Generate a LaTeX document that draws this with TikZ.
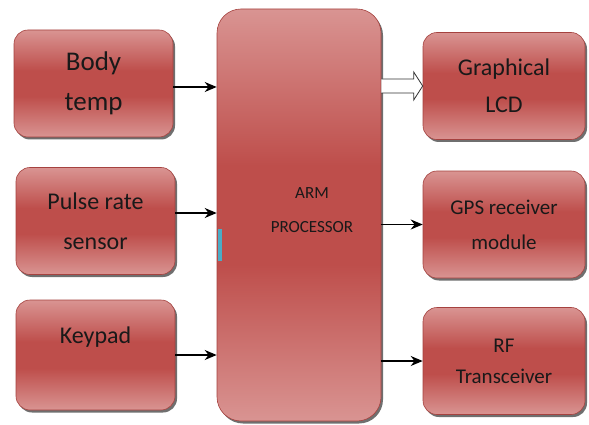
\documentclass[tikz,border=0pt]{standalone}
\usepackage{fontspec}
\setmainfont{Carlito}
\usetikzlibrary{arrows.meta,calc,shadows}
\definecolor{boxlight}{RGB}{217,148,146}
\definecolor{boxdark}{RGB}{190,78,75}
\definecolor{boxline}{RGB}{165,66,63}
\definecolor{marker}{RGB}{75,172,198}
\pgfdeclareverticalshading{redbar}{100bp}{color(0bp)=(boxlight); color(25bp)=(boxlight);
    color(44bp)=(boxdark); color(56bp)=(boxdark); color(75bp)=(boxlight); color(100bp)=(boxlight)}
\tikzset{
    >=Stealth,
    boxbase/.style={draw=boxline,line width=0.6pt,rounded corners=14pt,
        shade,shading=redbar,
        align=center,inner sep=0pt,text=black!90,
        drop shadow={shadow xshift=2pt,shadow yshift=-2.5pt,fill=black!80,opacity=0.7}},
    block/.style={boxbase,minimum width=159pt,minimum height=107pt},
    txt/.style 2 args={font=\fontsize{#1}{#2}\selectfont},
    link/.append style={line width=1.4pt,-{Stealth[length=12pt,width=10pt]}},
    hollow/.style={draw=black!80,fill=white,line width=0.8pt},
}
\begin{document}
\begin{tikzpicture}[x=1pt,y=-1pt]
    \fill[white,use as bounding box] (0,0) rectangle (589,425);

    % inputs
    \node[block,txt={27}{40}] (body) at (93.5,83.5) {Body\\temp};
    \node[block,txt={24}{40}] (pulse) at (95.5,221) {Pulse rate\\sensor};
    \node[block,minimum height=110pt,txt={24}{40}] (keypad) at (95.5,355) {Keypad\\\mbox{}};

    % processor
    \node[boxbase,rounded corners=24pt,minimum width=164pt,minimum height=412pt,txt={17}{34}] (arm) at (299,215)
        {\hspace*{26pt}ARM\\\hspace*{26pt}PROCESSOR\\[-24pt]\mbox{}};
    \draw[marker,line width=3.5pt] (220,229) -- (220,261);

    % outputs
    \node[block,minimum width=162pt,txt={24}{37}] (lcd) at (504,86) {Graphical\\LCD};
    \node[block,minimum width=162pt,txt={21}{35}] (gps) at (504,224.5) {GPS receiver\\module};
    \node[block,minimum width=162pt,txt={21}{31}] (rf) at (504,361) {RF\\Transceiver};

    \coordinate (bodyout) at ($(body.east)+(0,3.5)$);
    \coordinate (pulseout) at ($(pulse.east)+(0,-8)$);
    \draw[link] (bodyout) -- (bodyout -| arm.west);
    \draw[link] (pulseout) -- (pulseout -| arm.west);
    \draw[link] (keypad.east) -- (keypad.east -| arm.west);

    \draw[hollow] let \p1=(arm.east), \p2=(lcd.west) in
        (\x1,\y2+7pt) -- (\x2-9pt,\y2+7pt) -- (\x2-9pt,\y2+14pt) -- (\x2,\y2)
        -- (\x2-9pt,\y2-14pt) -- (\x2-9pt,\y2-7pt) -- (\x1,\y2-7pt);
    \draw[link] (gps.west -| arm.east) -- (gps.west);
    \draw[link] (rf.west -| arm.east) -- (rf.west);
\end{tikzpicture}
\end{document}
